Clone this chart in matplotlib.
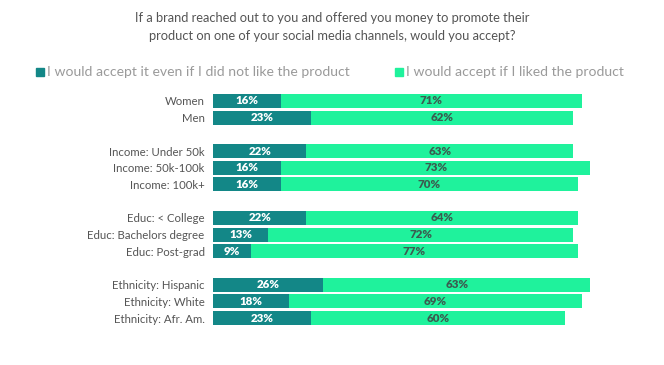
import matplotlib
matplotlib.use("Agg")
import matplotlib.pyplot as plt
import numpy as np

categories = ["Women", "Men",
              "Income: Under 50k", "Income: 50k-100k", "Income: 100k+",
              "Educ: < College", "Educ: Bachelors degree", "Educ: Post-grad",
              "Ethnicity: Hispanic", "Ethnicity: White", "Ethnicity: Afr. Am."]
groups = [0, 0, 1, 1, 1, 2, 2, 2, 3, 3, 3]
even_if_not_like = [16, 23, 22, 16, 16, 22, 13, 9, 26, 18, 23]
if_liked = [71, 62, 63, 73, 70, 64, 72, 77, 63, 69, 60]
series_names = ["I would accept it even if I did not like the product",
                "I would accept if I liked the product"]
title = ("If a brand reached out to you and offered you money to promote their\n"
         "product on one of your social media channels, would you accept?")

dark = "#138787"
light = "#1ff29c"
font = ["Lato", "DejaVu Sans"]
plt.rcParams["font.family"] = font

fig = plt.figure(figsize=(6.64, 3.65), dpi=100)
ax = fig.add_axes([213/664, 1-326.35/365, 424/664, (326.35-92.65)/365])

ypos = np.array([i + g for i, g in enumerate(groups)], dtype=float)
a = np.array(even_if_not_like)
b = np.array(if_liked)
h = 0.84
ax.barh(ypos, a, height=h, color=dark, edgecolor="none")
ax.barh(ypos, b, left=a, height=h, color=light, edgecolor="none")
for y, va, vb in zip(ypos, a, b):
    ax.text(va/2, y, f"{va}%", ha="center", va="center", color="white",
            fontsize=8.3, fontweight="heavy")
    ax.text(va + vb/2, y, f"{vb}%", ha="center", va="center", color="#3b5c50",
            fontsize=8.3, fontweight="heavy")

ax.set_xlim(0, 100)
ax.set_ylim(ypos.max() + 0.5, -0.5)
ax.set_yticks(ypos)
ax.set_yticklabels(categories, fontsize=8.2, color="#555555")
ax.tick_params(axis="y", length=0, pad=6)
ax.set_xticks([])
for s in ax.spines.values():
    s.set_visible(False)

fig.text(0.5, 1-27/365, title, ha="center", va="center", fontsize=9.3,
         color="#555555", linespacing=1.5)

# legend
fig.patches.append(plt.Rectangle((36/664, 1-75.5/365), 8/664, 8/365,
                                 transform=fig.transFigure, color=dark))
fig.text(47/664, 1-71.5/365, series_names[0], ha="left", va="center",
         fontsize=10.1, color="#9a9a9a")
fig.patches.append(plt.Rectangle((395/664, 1-75.5/365), 8/664, 8/365,
                                 transform=fig.transFigure, color=light))
fig.text(406/664, 1-71.5/365, series_names[1], ha="left", va="center",
         fontsize=10.1, color="#9a9a9a")

fig.savefig("out.png", dpi=100)
